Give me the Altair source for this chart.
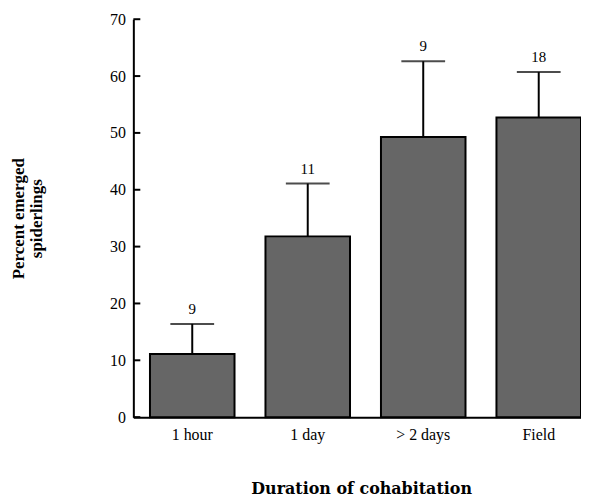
import altair as alt
import pandas as pd

categories = ["1 hour", "1 day", "> 2 days", "Field"]
means = [11.1, 31.8, 49.3, 52.7]
upper = [16.4, 41.1, 62.6, 60.7]
n_labels = ["9", "11", "9", "18"]
y_ticks = [0, 10, 20, 30, 40, 50, 60, 70]

df = pd.DataFrame({"cat": categories, "mean": means, "upper": upper, "n": n_labels})
ticks_df = pd.DataFrame({"t": y_ticks})

SERIF = "Liberation Serif"
TITLE_FONT = "DejaVu Serif"

yscale = alt.Scale(domain=[0, 70], nice=False, zero=True)
xscale = alt.Scale(paddingInner=0.268, paddingOuter=0.072, align=1)

x_enc = alt.X(
    "cat:N",
    sort=categories,
    scale=xscale,
    axis=alt.Axis(
        title="Duration of cohabitation",
        labelAngle=0,
        ticks=False,
        labelPadding=9,
        labelFont=SERIF,
        labelFontSize=16,
        labelColor="black",
        domainColor="black",
        domainWidth=2,
        titleFont=TITLE_FONT,
        titleFontSize=16,
        titleFontWeight="bold",
        titleColor="black",
        titleX=229,
        titleY=72,
        titleBaseline="middle",
    ),
)

bars = alt.Chart(df).mark_bar(color="#666666", stroke="black", strokeWidth=2).encode(
    x=x_enc,
    y=alt.Y(
        "mean:Q",
        scale=yscale,
        axis=alt.Axis(
            title=["Percent emerged", "spiderlings"],
            values=y_ticks,
            grid=False,
            ticks=False,
            labelPadding=8,
            labelFont=SERIF,
            labelFontSize=16,
            labelColor="black",
            domainColor="black",
            domainWidth=2,
            titleFont=SERIF,
            titleFontSize=17,
            titleFontWeight="bold",
            titleColor="black",
            titleAngle=270,
            titleX=-106,
            titleY=200,
            titleAlign="center",
            titleBaseline="bottom",
            titleLineHeight=18,
        ),
    ),
)

err = alt.Chart(df).mark_rule(color="black", strokeWidth=2).encode(
    x=alt.X("cat:N", sort=categories, scale=xscale),
    y=alt.Y("mean:Q", scale=yscale),
    y2="upper:Q",
)

caps = alt.Chart(df).mark_tick(color="black", thickness=2, size=44).encode(
    x=alt.X("cat:N", sort=categories, scale=xscale),
    y=alt.Y("upper:Q", scale=yscale),
)

labels = alt.Chart(df).mark_text(
    font=SERIF, fontSize=15, color="black", dy=-15, baseline="middle"
).encode(
    x=alt.X("cat:N", sort=categories, scale=xscale),
    y=alt.Y("upper:Q", scale=yscale),
    text="n:N",
)

inner_ticks = alt.Chart(ticks_df).mark_rule(color="black", strokeWidth=2).encode(
    y=alt.Y("t:Q", scale=yscale),
    x=alt.value(0),
    x2=alt.value(7),
)

chart = (
    alt.layer(bars, err, caps, labels, inner_ticks)
    .properties(
        width=450,
        height=400,
        autosize=alt.AutoSizeParams(type="none"),
        padding={"left": 126, "top": 10, "right": 0, "bottom": 80},
    )
    .configure_view(stroke=None)
)

chart.save("out.html", embed_options={"renderer": "svg", "actions": False})
